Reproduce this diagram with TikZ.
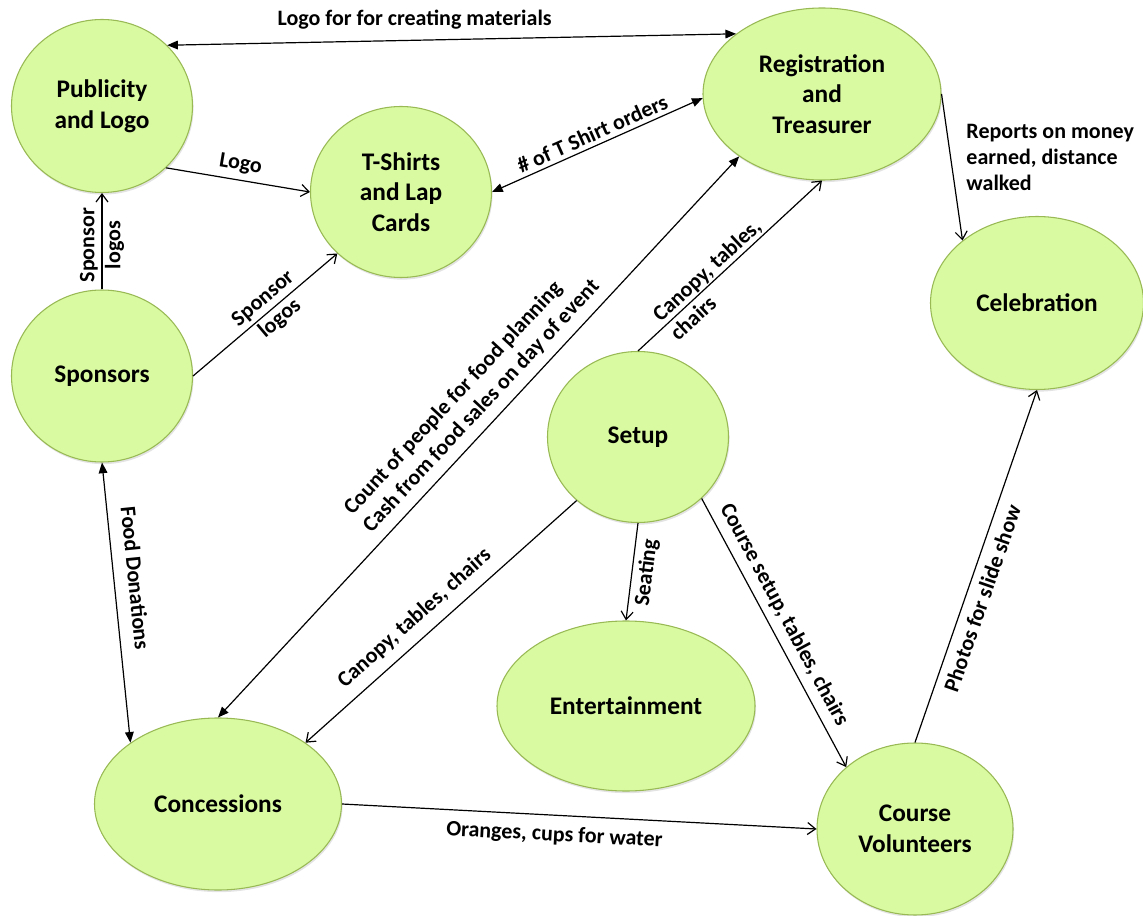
\documentclass[tikz,border=0pt]{standalone}
\usepackage{fontspec}
\setmainfont{Carlito}
\usetikzlibrary{shapes.geometric,arrows.meta,shadows}
\definecolor{blobfill}{RGB}{217,250,160}
\definecolor{blobedge}{RGB}{152,185,84}

\begin{document}
\begin{tikzpicture}[x=0.75pt,y=-0.75pt]
\tikzstyle{every node}+=[inner sep=0pt]
\tikzstyle{blob}=[ellipse, draw=blobedge, fill=blobfill, line width=0.8pt, align=center,
  font=\fontsize{19}{23}\selectfont\bfseries,
  drop shadow={shadow xshift=0.8pt, shadow yshift=-1.6pt, opacity=0.22}]
\tikzstyle{lab}=[font=\fontsize{16.5}{19.5}\selectfont\bfseries, inner sep=1.5pt]
\tikzstyle{flow}=[line width=0.9pt, -{Straight Barb[length=6pt,width=9pt]}]
\tikzstyle{both}=[line width=0.9pt, {Triangle[length=8pt,width=6.5pt]}-{Triangle[length=8pt,width=6.5pt]}]
\useasboundingbox (0,0) rectangle (1143,916);
% bubbles
\node [blob, minimum width=135.75pt, minimum height=129.75pt] (pub) at (102,106) {Publicity\\and Logo};
\node [blob, minimum width=135.75pt, minimum height=128.25pt] (tsh) at (401,192) {T-Shirts\\and Lap\\Cards};
\node [blob, minimum width=178.5pt, minimum height=129pt] (reg) at (822,94) {Registration\\and\\Treasurer};
\node [blob, minimum width=159.75pt, minimum height=129.75pt] (cel) at (1037,303) {Celebration};
\node [blob, minimum width=135.75pt, minimum height=129pt] (spo) at (102,376) {Sponsors};
\node [blob, minimum width=135.75pt, minimum height=128.25pt] (set) at (638,437) {Setup};
\node [blob, minimum width=193.5pt, minimum height=127.5pt] (ent) at (626,706) {Entertainment};
\node [blob, minimum width=185.25pt, minimum height=129pt] (con) at (218,804) {Concessions};
\node [blob, minimum width=147pt, minimum height=129pt] (vol) at (915,829) {Course\\Volunteers};
% flows
\draw [both] (pub.43) -- (reg.145) node [lab, pos=0.435, above=6.5pt] {Logo for for creating materials};
\draw [flow] (pub.-44) -- (tsh.west) node [lab, sloped, pos=0.5, above=3pt] {Logo};
\draw [flow] (spo.north) -- (pub.south) node [lab, sloped, pos=0.46, align=center] {Sponsor\\logos};
\draw [flow] (spo.east) -- (tsh.224) node [lab, sloped, pos=0.546, align=center] {Sponsor\\logos};
\draw [both] (spo.south) -- (con.145) node [lab, sloped, pos=0.42, above=8.5pt] {Food Donations};
\draw [both] (tsh.east) -- (reg.182) node [lab, sloped, pos=0.5, above=1.5pt] {\# of T Shirt orders};
\draw [both] (con.north) -- (reg.217) node [lab, sloped, pos=0.532, above=5pt, align=left] {Count of people for food planning\\Cash from food sales on day of event};
\draw [flow] (set.north) -- (reg.south) node [lab, sloped, pos=0.42, align=left] {Canopy, tables,\\chairs};
\draw [flow] (set.226) -- (con.35) node [lab, sloped, pos=0.548, above=6pt] {Canopy, tables, chairs};
\draw [flow] (set.south) -- (ent.north) node [lab, sloped, pos=0.49, below=2pt] {Seating};
\draw [flow] (set.-44) -- (vol.138) node [lab, sloped, pos=0.464, above=4pt] {Course setup, tables, chairs};
\draw [flow] (con.east) -- (vol.west) node [lab, sloped, pos=0.45, below=6pt] {Oranges, cups for water};
\draw [flow] (vol.north) -- (cel.south) node [lab, sloped, pos=0.424, below=4.5pt] {Photos for slide show};
\draw [flow] (reg.east) -- (cel.140) node [lab, pos=0.43, right=10pt, align=left] {Reports on money\\earned, distance\\walked};
\end{tikzpicture}
\end{document}
